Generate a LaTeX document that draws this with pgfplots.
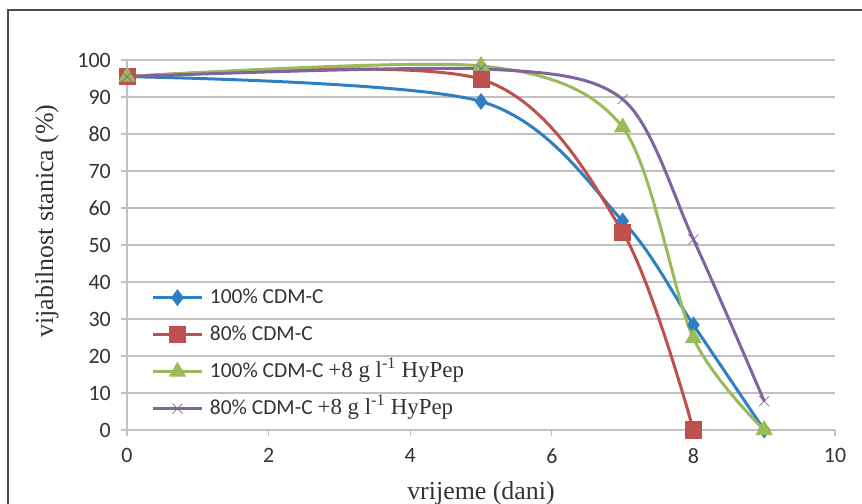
\documentclass[border=0pt]{standalone}
\usepackage{fontspec}
\setmainfont{Liberation Serif}
\newfontfamily\calibri{Carlito}
\usepackage{pgfplots}
\pgfplotsset{compat=1.18}

\definecolor{sblue}{HTML}{2F7FC4}
\definecolor{sred}{HTML}{C0504D}
\definecolor{sgreen}{HTML}{9BBB59}
\definecolor{spurple}{HTML}{8064A2}
\definecolor{gridgray}{HTML}{C0C0C0}
\definecolor{txt}{HTML}{333333}

% legend text: sans part (Calibri-like) and serif part
\newcommand{\sanspart}[1]{{\calibri\fontsize{21.5}{25}\selectfont #1}}
\newcommand{\serifpart}[1]{{\fontsize{23}{26}\selectfont #1}}

\begin{document}
\begin{tikzpicture}
\useasboundingbox (0,0) rectangle (862bp,504bp);
\draw[line width=1.5bp, black!70] (8bp,-20bp) -- (8bp,494bp) -- (900bp,494bp);
\begin{axis}[
    at={(127bp,74bp)}, anchor=south west,
    scale only axis,
    width=708bp, height=370bp,
    xmin=0, xmax=10, ymin=0, ymax=100,
    xtick={0,2,...,10},
    ytick={0,10,...,100},
    axis lines*=left,
    axis line style={gridgray, line width=1.2bp},
    ymajorgrids=true,
    grid style={gridgray, line width=1.2bp},
    tick align=outside,
    major tick length=6bp,
    tick style={gridgray, line width=1.2bp},
    /pgf/number format/assume math mode=true,
    ticklabel style={font=\calibri\fontsize{22}{26}\selectfont, text=txt, inner sep=0pt},
    yticklabel style={anchor=east, xshift=-10bp},
    xticklabel style={anchor=north, yshift=-12bp},
    xlabel={vrijeme (dani)},
    ylabel={vijabilnost stanica (\%)},
    every axis x label/.style={at={(rel axis cs:0.5,0)}, anchor=north, yshift=-51bp,
        inner sep=0pt, font=\fontsize{26}{30}\selectfont, text=txt},
    every axis y label/.style={at={(rel axis cs:0,0.565)}, xshift=-80bp, rotate=90,
        anchor=center, inner sep=0pt, font=\fontsize{26}{30}\selectfont, text=txt},
    legend style={at={(rel axis cs:0.035,0.392)}, anchor=north west,
        draw=none, fill=none, row sep=12bp, inner sep=0pt,
        nodes={inner sep=1bp, text height=17bp, text depth=6bp, text=txt}},
    legend cell align=left,
    legend image code/.code={
        \draw[#1, mark repeat=2, mark phase=2]
        plot coordinates {(0bp,0bp) (24bp,0bp) (48bp,0bp)};
        \path (54bp,0bp);
    },
    every axis plot/.append style={line width=3bp, smooth},
]

\addplot[color=sblue, mark=diamond*, mark size=6bp, mark options={solid}]
    coordinates {(0,95.5) (5,88.8) (7,56.5) (8,28.4) (9,0)};
\addlegendentry{\sanspart{100\% CDM-C}}

\addplot[color=sred, mark=square*, mark size=7bp]
    coordinates {(0,95.5) (5,94.8) (7,53.5) (8,0)};
\addlegendentry{\sanspart{80\% CDM-C}}

\addplot[color=sgreen, mark=triangle*, mark size=7bp]
    coordinates {(0,95.5) (5,98.4) (7,81.8) (8,24.8) (9,0)};
\addlegendentry{\sanspart{100\% CDM-C }\serifpart{+8 g l\textsuperscript{-1} HyPep}}

\addplot[color=spurple, mark=x, mark size=7bp, mark options={line width=0.8bp}]
    coordinates {(0,95.5) (5,97.6) (7,89.4) (8,51.5) (9,7.8)};
\addlegendentry{\sanspart{80\% CDM-C }\serifpart{+8 g l\textsuperscript{-1} HyPep}}

\end{axis}
\end{tikzpicture}
\end{document}
